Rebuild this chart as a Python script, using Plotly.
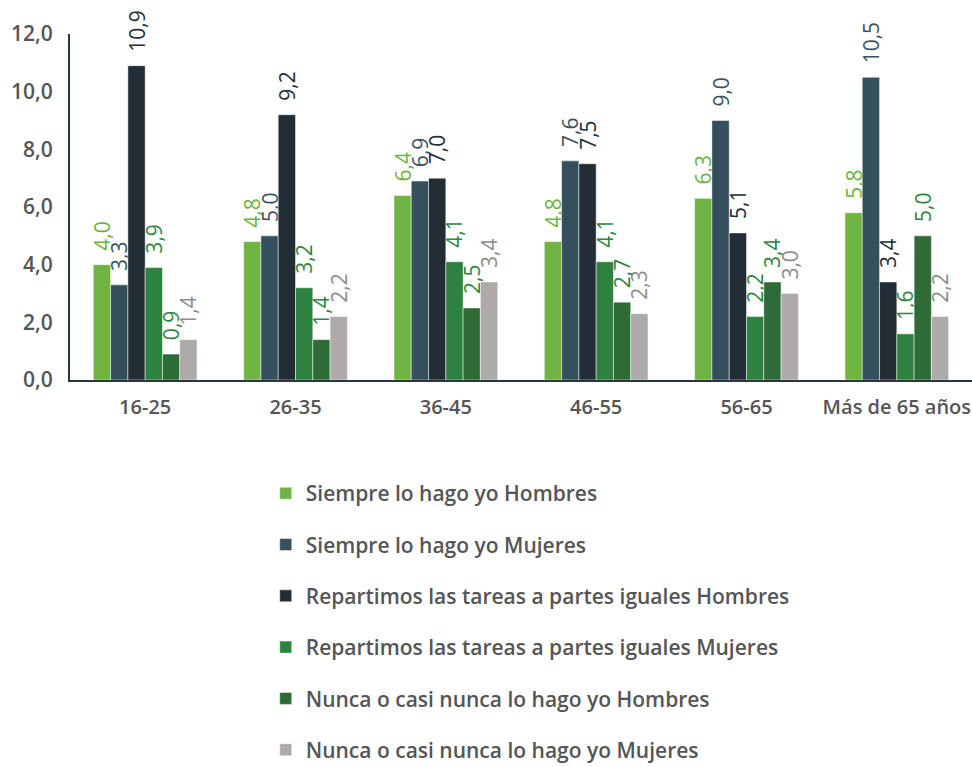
import plotly.graph_objects as go

# Age groups and the six response series
categories = ["16-25", "26-35", "36-45", "46-55", "56-65", "Más de 65 años"]

siempre_hombres = [4.0, 4.8, 6.4, 4.8, 6.3, 5.8]
siempre_mujeres = [3.3, 5.0, 6.9, 7.6, 9.0, 10.5]
repartimos_hombres = [10.9, 9.2, 7.0, 7.5, 5.1, 3.4]
repartimos_mujeres = [3.9, 3.2, 4.1, 4.1, 2.2, 1.6]
nunca_hombres = [0.9, 1.4, 2.5, 2.7, 3.4, 5.0]
nunca_mujeres = [1.4, 2.2, 3.4, 2.3, 3.0, 2.2]

y_ticks = [0, 2, 4, 6, 8, 10, 12]

series = [
    ("Siempre lo hago yo Hombres", siempre_hombres, "#70b443", "#6db33f"),
    ("Siempre lo hago yo Mujeres", siempre_mujeres, "#354f5c", "#3b525e"),
    ("Repartimos las tareas a partes iguales Hombres", repartimos_hombres, "#222d36", "#222d36"),
    ("Repartimos las tareas a partes iguales Mujeres", repartimos_mujeres, "#2e8240", "#2e8540"),
    ("Nunca o casi nunca lo hago yo Hombres", nunca_hombres, "#2e6b37", "#2e8540"),
    ("Nunca o casi nunca lo hago yo Mujeres", nunca_mujeres, "#aeaaaa", "#8c8c8c"),
]

FONT = "'Open Sans', 'Noto Sans', sans-serif"
TEXT_GREY = "#555555"

fig = go.Figure()
for i, (name, values, color, label_color) in enumerate(series):
    fig.add_trace(go.Bar(
        name=name,
        x=categories,
        y=values,
        marker=dict(color=color, line=dict(color="rgba(255,255,255,0.6)", width=0.8)),
        # non-breaking spaces lift the rotated label a little off the bar top
        texttemplate="\u00a0\u00a0%{y:.1f}",
        textposition="outside",
        textangle=-90,
        textfont=dict(family=FONT, size=21, color=label_color),
        cliponaxis=False,
        legendgroup=f"g{i}",
        hoverinfo="skip",
    ))

fig.update_layout(
    width=972,
    height=767,
    separators=",.",
    barmode="group",
    bargap=0.31,
    bargroupgap=0,
    plot_bgcolor="white",
    paper_bgcolor="white",
    margin=dict(l=70, r=0, t=34, b=387, autoexpand=False),
    font=dict(family=FONT, color=TEXT_GREY),
    uniformtext=dict(minsize=21, mode="show"),
    legend=dict(
        orientation="v",
        x=0.217,
        xanchor="left",
        y=-0.269,
        yanchor="top",
        font=dict(family=FONT, size=21, color=TEXT_GREY, weight=600),
        tracegroupgap=21,
        itemwidth=30,
        traceorder="grouped",
    ),
    xaxis=dict(
        showline=True,
        linecolor="#2b3640",
        linewidth=2,
        ticks="",
        showgrid=False,
        ticklabelstandoff=8,
        tickfont=dict(family=FONT, size=20, color=TEXT_GREY, weight=600),
    ),
    yaxis=dict(
        range=[0, 12],
        tickvals=y_ticks,
        tickformat=".1f",
        showline=True,
        linecolor="#2b3640",
        linewidth=2,
        showgrid=False,
        zeroline=False,
        ticks="",
        ticklabelstandoff=11,
        tickfont=dict(family=FONT, size=21, color=TEXT_GREY, weight=600),
    ),
)

fig.write_html("out.html")
